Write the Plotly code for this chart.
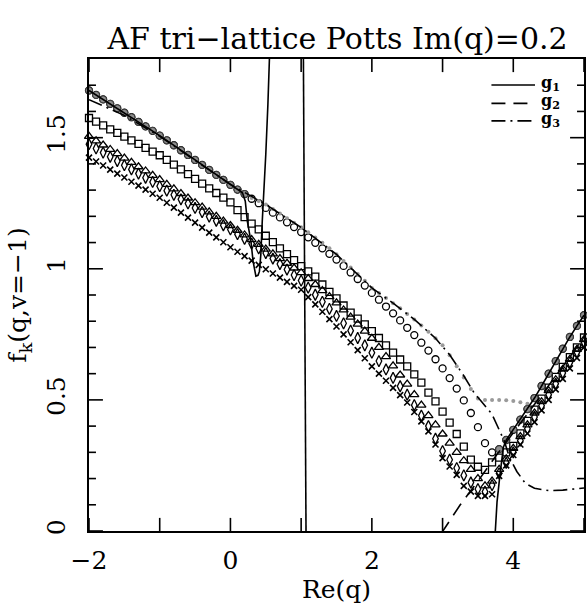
import plotly.graph_objects as go

# Re(q) grid shared by every marker series
re_q = [round(-2.0 + 0.1 * i, 1) for i in range(71)]

f_circle = [1.680, 1.663, 1.646, 1.629, 1.612, 1.595, 1.578, 1.560, 1.543, 1.526,
            1.508, 1.490, 1.471, 1.452, 1.434, 1.415, 1.396, 1.377, 1.358, 1.339,
            1.320, 1.302, 1.285, 1.267, 1.250, 1.232, 1.214, 1.196, 1.177, 1.159,
            1.140, 1.120, 1.099, 1.078, 1.057, 1.035, 1.011, 0.986, 0.961, 0.936,
            0.908, 0.882, 0.856, 0.830, 0.803, 0.775, 0.747, 0.718, 0.688, 0.655,
            0.620, 0.583, 0.543, 0.498, 0.450, 0.396, 0.335, 0.300, 0.312, 0.347,
            0.386, 0.425, 0.465, 0.507, 0.553, 0.600, 0.648, 0.695, 0.740, 0.782, 0.823]

f_square = [1.575, 1.561, 1.547, 1.532, 1.518, 1.504, 1.490, 1.476, 1.461, 1.447,
            1.433, 1.415, 1.397, 1.379, 1.361, 1.343, 1.325, 1.307, 1.289, 1.271,
            1.253, 1.224, 1.197, 1.172, 1.150, 1.126, 1.102, 1.078, 1.056, 1.033,
            1.010, 0.990, 0.970, 0.940, 0.912, 0.887, 0.860, 0.833, 0.810, 0.788,
            0.762, 0.736, 0.708, 0.680, 0.654, 0.628, 0.597, 0.566, 0.528, 0.494,
            0.455, 0.413, 0.370, 0.322, 0.272, 0.245, 0.233, 0.262, 0.280, 0.300,
            0.325, 0.372, 0.420, 0.463, 0.505, 0.547, 0.588, 0.626, 0.663, 0.700, 0.738]

f_triangle = [1.505, 1.488, 1.472, 1.455, 1.439, 1.422, 1.406, 1.389, 1.373, 1.356,
              1.340, 1.322, 1.305, 1.287, 1.270, 1.252, 1.235, 1.217, 1.200, 1.182,
              1.165, 1.147, 1.129, 1.111, 1.093, 1.075, 1.057, 1.039, 1.021, 1.003,
              0.985, 0.963, 0.940, 0.917, 0.894, 0.870, 0.843, 0.816, 0.789, 0.762,
              0.735, 0.700, 0.665, 0.630, 0.595, 0.560, 0.520, 0.480, 0.440, 0.405,
              0.370, 0.335, 0.300, 0.268, 0.235, 0.200, 0.172, 0.190, 0.235, 0.275,
              0.315, 0.360, 0.405, 0.450, 0.493, 0.535, 0.577, 0.617, 0.655, 0.693, 0.730]

f_diamond = [1.475, 1.459, 1.443, 1.427, 1.411, 1.395, 1.379, 1.363, 1.347, 1.331,
             1.315, 1.298, 1.282, 1.265, 1.249, 1.232, 1.216, 1.199, 1.183, 1.166,
             1.150, 1.132, 1.114, 1.096, 1.078, 1.060, 1.039, 1.018, 0.997, 0.976,
             0.955, 0.928, 0.901, 0.874, 0.847, 0.820, 0.792, 0.764, 0.736, 0.708,
             0.680, 0.648, 0.616, 0.584, 0.552, 0.520, 0.480, 0.440, 0.400, 0.352,
             0.305, 0.272, 0.240, 0.212, 0.185, 0.160, 0.150, 0.175, 0.220, 0.260,
             0.300, 0.345, 0.390, 0.435, 0.478, 0.520, 0.562, 0.603, 0.643, 0.682, 0.720]

f_cross = [1.424, 1.409, 1.394, 1.378, 1.363, 1.348, 1.332, 1.317, 1.302, 1.286,
           1.271, 1.252, 1.233, 1.214, 1.195, 1.176, 1.157, 1.138, 1.120, 1.101,
           1.082, 1.065, 1.048, 1.031, 1.015, 0.998, 0.982, 0.966, 0.950, 0.935,
           0.920, 0.892, 0.864, 0.836, 0.808, 0.780, 0.750, 0.720, 0.690, 0.659,
           0.628, 0.600, 0.573, 0.546, 0.518, 0.490, 0.454, 0.418, 0.380, 0.330,
           0.278, 0.246, 0.214, 0.172, 0.150, 0.134, 0.134, 0.140, 0.210, 0.250,
           0.290, 0.330, 0.372, 0.415, 0.460, 0.500, 0.540, 0.580, 0.620, 0.660, 0.700]

# limiting values: filled grey circles and small grey dots (None where absent)
f_limit = [1.680, 1.663, 1.646, 1.629, 1.612, 1.595, 1.578, 1.560, 1.543, 1.526,
           1.508, 1.490, 1.471, 1.452, 1.434, 1.415, 1.396, 1.377, 1.358, 1.339,
           1.320, 1.302, 1.285] + [None] * 35 + \
          [0.312, 0.347, 0.386, 0.425, 0.465, 0.507, 0.553, 0.600, 0.648, 0.695,
           0.740, 0.782, 0.823]

f_limit_dots = [None] * 23 + \
               [1.270, 1.258, 1.245, 1.228, 1.211, 1.193, 1.176, 1.158, 1.139, 1.119,
                1.099, 1.078, 1.055, 1.030, 1.005, 0.980, 0.954, 0.927, 0.908, 0.889,
                0.869, 0.849, 0.828, 0.807, 0.784, 0.760, 0.735, 0.708, 0.670, 0.628,
                0.585, 0.542, 0.505, 0.500, 0.500, 0.500, 0.499, 0.496, 0.491, 0.485] + [None] * 8

# analytic branches g1, g2, g3 (None breaks the curve)
g1_x = [-2.0, -1.5, -1.0, -0.5, 0.0, 0.1, 0.17, 0.21, 0.24, 0.29, 0.32, 0.36, 0.39, 0.41,
        0.43, 0.45, 0.48, 0.50, 0.53, 0.56, None,
        1.03, 1.07, None,
        3.735, 3.77, 3.81, 3.86, 3.9, 4.0, 4.1, 4.2, 4.3, 4.4, 4.5, 4.6, 4.7, 4.8, 4.9, 5.0]
g1_y = [1.68, 1.595, 1.508, 1.415, 1.32, 1.302, 1.29, 1.258, 1.18, 1.105, 1.029, 0.972, 0.975, 0.99,
        1.055, 1.18, 1.31, 1.437, 1.628, 1.87, None,
        1.9, -0.05, None,
        -0.05, 0.11, 0.21, 0.32, 0.347, 0.386, 0.425, 0.465, 0.507, 0.553, 0.600, 0.648, 0.695,
        0.740, 0.782, 0.823]

g2_x = [2.98, 3.25, 3.5, 3.75, 4.0, 4.25, 4.5, 4.75, 5.0]
g2_y = [-0.01, 0.10, 0.19, 0.285, 0.375, 0.465, 0.555, 0.645, 0.74]

g3_x = [-2.0, -1.5, -1.0, -0.5, 0.0, 0.5, 1.0, 1.5, 2.0, 2.3, 2.6, 2.9, 3.1, 3.3, 3.45, 3.55,
        3.7, 3.8, 3.87, 3.95, 4.05, 4.17, 4.3, 4.5, 4.7, 5.0]
g3_y = [1.645, 1.585, 1.505, 1.415, 1.322, 1.245, 1.158, 1.055, 0.927, 0.869, 0.807, 0.735,
        0.672, 0.592, 0.525, 0.494, 0.445, 0.386, 0.345, 0.278, 0.227, 0.182, 0.163, 0.154,
        0.156, 0.164]

x_tick_vals = [-2, -1, 0, 1, 2, 3, 4, 5]
x_tick_text = ["−2", "", "0", "", "2", "", "4", ""]
y_tick_vals = [0, 0.5, 1, 1.5]
y_tick_text = ["0", "0.5", "1", "1.5"]
y_minor_vals = [0.1, 0.2, 0.3, 0.4, 0.6, 0.7, 0.8, 0.9, 1.1, 1.2, 1.3, 1.4, 1.6, 1.7]

X_RANGE = [-2, 5]
Y_RANGE = [0, 1.8]

FONT = "DejaVu Serif"
fig = go.Figure()

def markers(y, symbol, size, width=1.3, color="black", fill=None):
    fig.add_trace(go.Scatter(
        x=re_q, y=y, mode="markers", showlegend=False, cliponaxis=False,
        marker=dict(symbol=symbol, size=size, color=fill or color,
                    line=dict(color=color, width=width))))

markers(f_cross, "x-thin-open", 6, width=1.6)
markers(f_diamond, "diamond-tall-open", 8)
markers(f_triangle, "triangle-up-open", 8)
markers(f_square, "square-open", 7)
markers(f_circle, "circle-open", 7)
fig.add_trace(go.Scatter(x=re_q, y=f_limit_dots, mode="markers", showlegend=False,
                         marker=dict(symbol="circle", size=4, color="#9a9a9a")))
markers(f_limit, "circle", 7, width=1.0, color="#3a3a3a", fill="#8e8e8e")

line_w = 1.6
fig.add_trace(go.Scatter(x=g1_x, y=g1_y, mode="lines", showlegend=False,
                         line=dict(color="black", width=line_w)))
fig.add_trace(go.Scatter(x=g2_x, y=g2_y, mode="lines", showlegend=False,
                         line=dict(color="black", width=line_w, dash="14px,8px")))
fig.add_trace(go.Scatter(x=g3_x, y=g3_y, mode="lines", showlegend=False,
                         line=dict(color="black", width=line_w, dash="14px,5px,2px,5px")))

# inward tick marks on all four sides (lengths in axis units: ~13 px and ~14/7 px)
x_len = 0.05 * (Y_RANGE[1] - Y_RANGE[0]) / 1.8
y_major_len = 0.197 * (X_RANGE[1] - X_RANGE[0]) / 7
y_minor_len = y_major_len / 2
tx, ty = [], []
for xv in x_tick_vals:
    tx += [xv, xv, None, xv, xv, None]
    ty += [Y_RANGE[0], Y_RANGE[0] + x_len, None, Y_RANGE[1], Y_RANGE[1] - x_len, None]
for vals, length in ((y_tick_vals, y_major_len), (y_minor_vals, y_minor_len)):
    for yv in vals:
        tx += [X_RANGE[0], X_RANGE[0] + length, None, X_RANGE[1], X_RANGE[1] - length, None]
        ty += [yv, yv, None, yv, yv, None]
fig.add_trace(go.Scatter(x=tx, y=ty, mode="lines", showlegend=False, hoverinfo="skip",
                         line=dict(color="black", width=1.6)))

# key in the upper right corner
key = [("<b>g<sub>1</sub></b>", None, 0.945),
       ("<b>g<sub>2</sub></b>", "14px,8px", 0.906),
       ("<b>g<sub>3</sub></b>", "14px,5px,2px,5px", 0.869)]
for label, dash, yk in key:
    fig.add_shape(type="line", xref="paper", yref="paper", x0=0.813, x1=0.901, y0=yk, y1=yk,
                  line=dict(color="black", width=line_w, dash=dash or "solid"))
    fig.add_annotation(xref="paper", yref="paper", x=0.909, y=yk + 0.003, text=label,
                       showarrow=False, xanchor="left", yanchor="middle",
                       font=dict(family=FONT, size=16, color="black"))

tick_font = dict(family=FONT, size=25, color="black")
frame = dict(showline=True, linecolor="black", linewidth=2, mirror=True,
             showgrid=False, zeroline=False, tickfont=tick_font, ticks="")

fig.update_xaxes(range=X_RANGE, tickmode="array", tickvals=x_tick_vals,
                 ticktext=x_tick_text, ticklabelstandoff=6,
                 title=dict(text="Re(q)", font=dict(family=FONT, size=25, color="black"),
                            standoff=0),
                 **frame)
fig.update_yaxes(range=Y_RANGE, tickmode="array", tickvals=y_tick_vals,
                 ticktext=y_tick_text, tickangle=-90, ticklabelstandoff=12,
                 title=dict(text="f<sub>k</sub>(q,v=−1)",
                            font=dict(family=FONT, size=25, color="black"), standoff=8),
                 **frame)

fig.update_layout(
    width=587, height=606,
    margin=dict(l=89, r=1, t=59, b=75),
    plot_bgcolor="white", paper_bgcolor="white",
    title=dict(text="AF tri−lattice Potts Im(q)=0.2", x=0.575, xanchor="center",
               y=0.937, yanchor="middle",
               font=dict(family=FONT, size=30, color="black")),
)

fig.write_html("out.html")
